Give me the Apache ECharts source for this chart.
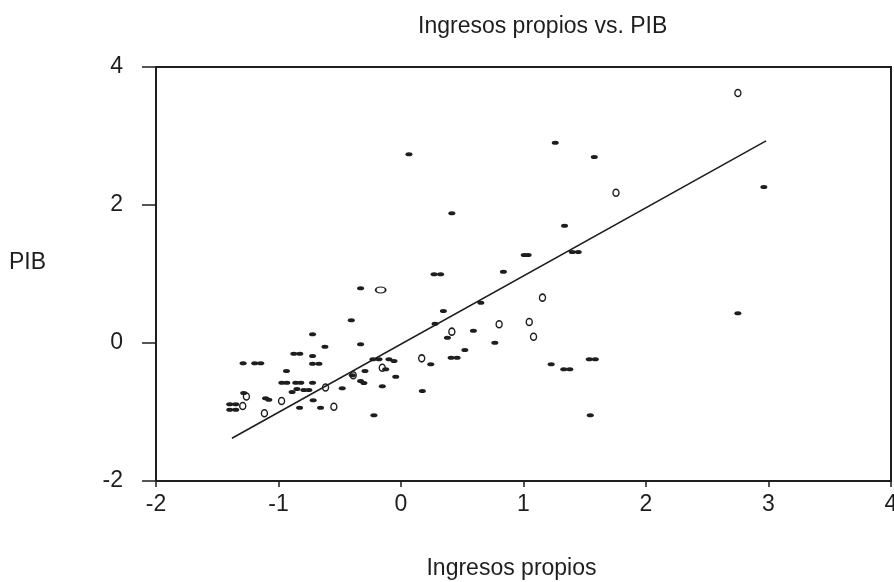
<!DOCTYPE html>
<html>
<head>
<meta charset="utf-8">
<script src="https://cdn.jsdelivr.net/npm/echarts@6/dist/echarts.min.js"></script>
<style>html,body{margin:0;padding:0;background:#fff}#c{width:894px;height:582px}</style>
</head>
<body>
<div id="c"></div>
<script>
// Data (x = Ingresos propios, y = PIB)
var filledPoints = [
  [-0.722,0.126],[-0.621,-0.054],[-1.289,-0.294],[-1.194,-0.294],[-1.145,-0.294],
  [-0.875,-0.155],[-0.826,-0.155],[-0.722,-0.188],[-0.722,-0.30],[-0.670,-0.30],
  [-0.935,-0.406],[-0.973,-0.575],[-0.932,-0.575],[-0.859,-0.575],[-0.818,-0.575],
  [-0.722,-0.575],[-0.889,-0.710],[-0.850,-0.667],[-0.793,-0.681],[-0.752,-0.681],
  [-1.284,-0.725],[-1.106,-0.801],[-1.079,-0.822],[-1.398,-0.888],[-1.349,-0.888],
  [-1.398,-0.967],[-1.349,-0.967],[-0.828,-0.938],[-0.717,-0.830],[-0.657,-0.938],
  [-0.330,0.793],[-0.406,0.329],[-0.330,-0.019],[-0.229,-0.236],[-0.180,-0.236],
  [-0.098,-0.236],[-0.057,-0.261],[-0.125,-0.381],[-0.294,-0.406],[-0.398,-0.468],
  [-0.330,-0.551],[-0.303,-0.580],[-0.043,-0.488],[-0.153,-0.628],[-0.480,-0.657],
  [-0.221,-1.048],[0.174,-0.696],[0.243,-0.309],[0.065,2.735],[1.259,2.903],
  [1.578,2.696],[0.415,1.880],[1.335,1.700],[1.006,1.275],[1.038,1.275],
  [1.398,1.319],[1.447,1.319],[0.270,0.996],[0.323,0.996],[0.836,1.033],
  [0.652,0.584],[0.346,0.464],[0.278,0.280],[0.591,0.178],[0.379,0.077],
  [0.766,0.004],[0.521,-0.101],[1.537,-0.236],[1.586,-0.236],[1.226,-0.309],
  [1.329,-0.381],[1.378,-0.381],[1.545,-1.048],[0.409,-0.213],[0.458,-0.213],
  [2.962,2.261],[2.750,0.430]
];
var openPoints = [
  [-1.262,-0.775],[-0.975,-0.841],[-1.292,-0.913],[-1.115,-1.019],[-0.616,-0.645],
  [-0.548,-0.923],[-0.153,-0.358],[-0.390,-0.468],[0.169,-0.222],[1.155,0.657],
  [0.801,0.271],[1.047,0.304],[0.415,0.164],[1.082,0.090],[1.755,2.178],
  [2.750,3.623]
];
var wideOpenPoints = [[-0.166,0.768]];
var fitLine = [[-1.38,-1.38],[2.98,2.93]];
var xAxisRange = [-2, 4, 1];
var yAxisRange = [-2, 4, 2];

var ELL = 'path://M0,5 A5,5 0 1 1 10,5 A5,5 0 1 1 0,5 Z';
var INK = '#1e1e1e';
var FONT = 'Liberation Sans, Arial, sans-serif';

var chart = echarts.init(document.getElementById('c'), null, {renderer: 'canvas'});
chart.setOption({
  backgroundColor: '#fff',
  animation: false,
  title: {
    text: 'Ingresos propios vs. PIB',
    left: 418, top: 15, padding: 0,
    textStyle: {fontFamily: FONT, fontSize: 23, fontWeight: 'normal', color: INK}
  },
  grid: {left: 156, top: 67, right: 3, bottom: 101, outerBoundsMode: 'none', containLabel: false,
         show: true, borderColor: INK, borderWidth: 2},
  xAxis: {
    type: 'value', min: xAxisRange[0], max: xAxisRange[1], interval: xAxisRange[2],
    name: 'Ingresos propios', nameLocation: 'middle', nameGap: 76,
    nameTextStyle: {fontFamily: FONT, fontSize: 23, color: INK, padding: [0, 24, 0, 0]},
    axisLine: {show: true, onZero: false, lineStyle: {color: INK, width: 2}},
    axisTick: {show: true, inside: false, length: 6, lineStyle: {color: INK, width: 1.5}},
    axisLabel: {fontFamily: FONT, fontSize: 23, color: INK, margin: 12, hideOverlap: false},
    splitLine: {show: false}
  },
  yAxis: {
    type: 'value', min: yAxisRange[0], max: yAxisRange[1], interval: yAxisRange[2],
    name: 'PIB', nameLocation: 'middle', nameRotate: 0, nameGap: 110,
    nameTextStyle: {fontFamily: FONT, fontSize: 23, color: INK, verticalAlign: 'bottom'},
    axisLine: {show: true, onZero: false, lineStyle: {color: INK, width: 2}},
    axisTick: {show: true, inside: false, length: 14, lineStyle: {color: INK, width: 1.5}},
    axisLabel: {fontFamily: FONT, fontSize: 23, color: INK, margin: 33},
    splitLine: {show: false}
  },
  series: [
    {
      type: 'line', data: fitLine, symbol: 'none', silent: true,
      lineStyle: {color: INK, width: 1.6}
    },
    {
      type: 'scatter', data: filledPoints, symbol: ELL, symbolSize: [7, 4],
      itemStyle: {color: INK, opacity: 1}
    },
    {
      type: 'scatter', data: openPoints, symbol: ELL, symbolSize: [6, 7],
      itemStyle: {color: 'rgba(255,255,255,0)', borderColor: INK, borderWidth: 1.5, opacity: 1}
    },
    {
      type: 'scatter', data: wideOpenPoints, symbol: ELL, symbolSize: [10, 6],
      itemStyle: {color: 'rgba(255,255,255,0)', borderColor: INK, borderWidth: 1.5, opacity: 1}
    }
  ]
});
</script>
</body>
</html>
